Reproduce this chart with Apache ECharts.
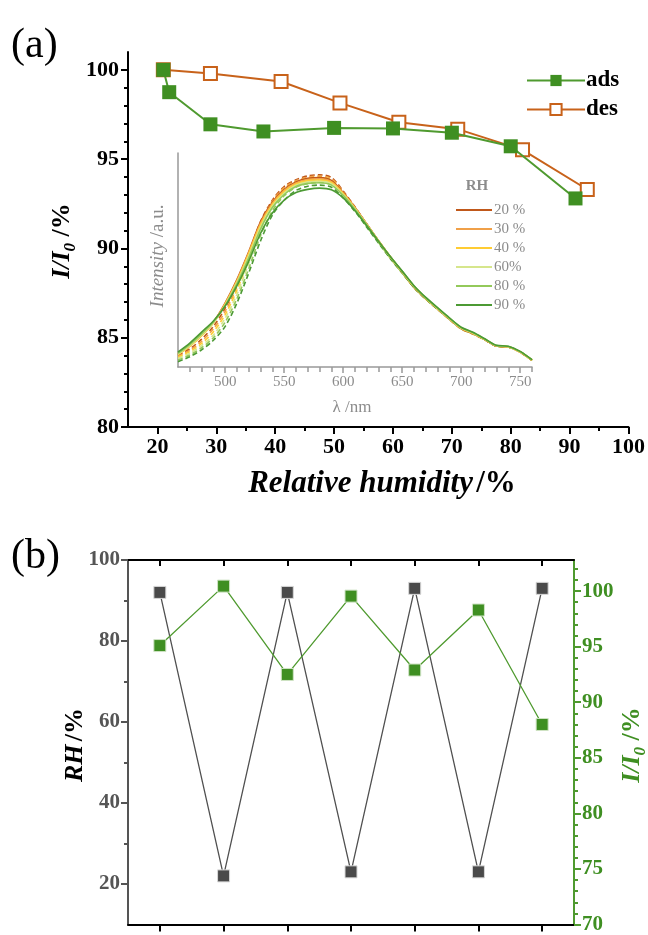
<!DOCTYPE html>
<html><head><meta charset="utf-8">
<script src="https://cdn.jsdelivr.net/npm/echarts@6/dist/echarts.min.js"></script>
<style>html,body{margin:0;padding:0;background:#fff}#c{width:648px;height:935px}</style>
</head><body><div id="c"></div>
<script>
// ---------- (a) main isotherm ----------
var adsRH = [21, 22, 29, 38, 50, 60, 70, 80, 91];
var adsI  = [100, 98.75, 96.95, 96.55, 96.75, 96.72, 96.48, 95.72, 92.8];
var desRH = [21, 29, 41, 51, 61, 71, 82, 93];
var desI  = [100, 99.8, 99.35, 98.15, 97.07, 96.68, 95.52, 93.3];
var xTicksA = [20, 30, 40, 50, 60, 70, 80, 90, 100];
var xMinorA = [25, 35, 45, 55, 65, 75, 85, 95];
var yTicksA = [80, 85, 90, 95, 100];
var yMinorA = [81,82,83,84,86,87,88,89,91,92,93,94,96,97,98,99];

// ---------- (a) inset spectra ----------
var wavelength = [460,470,480,490,500,510,520,530,540,550,560,570,580,590,600,610,620,630,640,650,660,670,680,690,700,710,720,730,740,750,760];
var rhLabels = ['20 %', '30 %', '40 %', '60%', '80 %', '90 %'];
var ads20 = [0.062,0.100,0.150,0.210,0.300,0.410,0.540,0.680,0.770,0.830,0.865,0.882,0.885,0.872,0.815,0.745,0.668,0.590,0.515,0.445,0.375,0.320,0.272,0.225,0.180,0.156,0.128,0.098,0.094,0.070,0.032];
var ads30 = [0.060,0.098,0.148,0.208,0.297,0.405,0.535,0.672,0.765,0.825,0.860,0.876,0.879,0.866,0.812,0.743,0.667,0.589,0.514,0.445,0.376,0.321,0.273,0.226,0.181,0.157,0.129,0.098,0.094,0.070,0.032];
var ads40 = [0.058,0.096,0.146,0.206,0.294,0.400,0.530,0.665,0.760,0.820,0.855,0.871,0.874,0.862,0.810,0.742,0.666,0.589,0.514,0.445,0.376,0.321,0.273,0.226,0.182,0.158,0.129,0.099,0.095,0.071,0.032];
var ads60 = [0.060,0.100,0.150,0.207,0.290,0.395,0.520,0.655,0.752,0.813,0.849,0.865,0.868,0.857,0.806,0.740,0.665,0.588,0.514,0.446,0.377,0.322,0.274,0.227,0.183,0.159,0.130,0.099,0.095,0.071,0.033];
var ads80 = [0.064,0.105,0.155,0.210,0.288,0.390,0.510,0.645,0.745,0.806,0.843,0.858,0.861,0.850,0.802,0.737,0.664,0.588,0.515,0.447,0.378,0.323,0.275,0.228,0.184,0.160,0.131,0.100,0.096,0.072,0.033];
var ads90 = [0.070,0.112,0.163,0.215,0.285,0.380,0.495,0.625,0.720,0.780,0.815,0.830,0.836,0.828,0.790,0.730,0.660,0.586,0.515,0.448,0.380,0.325,0.277,0.230,0.186,0.162,0.132,0.101,0.097,0.073,0.034];
var des20 = [0.055,0.085,0.130,0.190,0.275,0.390,0.530,0.680,0.780,0.843,0.875,0.893,0.898,0.886,0.822,0.748,0.667,0.588,0.512,0.442,0.372,0.318,0.270,0.223,0.178,0.154,0.127,0.097,0.093,0.069,0.031];
var des30 = [0.050,0.078,0.120,0.178,0.260,0.375,0.520,0.672,0.775,0.838,0.870,0.887,0.892,0.880,0.818,0.745,0.665,0.587,0.511,0.441,0.372,0.318,0.270,0.223,0.178,0.154,0.127,0.097,0.093,0.069,0.031];
var des40 = [0.045,0.072,0.110,0.165,0.245,0.360,0.505,0.660,0.768,0.832,0.865,0.881,0.886,0.874,0.814,0.742,0.663,0.586,0.510,0.441,0.372,0.318,0.270,0.223,0.179,0.155,0.127,0.097,0.093,0.069,0.031];
var des60 = [0.040,0.065,0.100,0.150,0.228,0.340,0.485,0.640,0.752,0.818,0.853,0.868,0.872,0.862,0.806,0.737,0.660,0.584,0.509,0.440,0.372,0.318,0.270,0.224,0.179,0.155,0.128,0.098,0.094,0.070,0.031];
var des80 = [0.033,0.056,0.090,0.137,0.210,0.320,0.460,0.615,0.730,0.800,0.840,0.857,0.862,0.852,0.800,0.733,0.657,0.582,0.508,0.440,0.372,0.318,0.271,0.224,0.180,0.156,0.128,0.098,0.094,0.070,0.031];
var des90 = [0.025,0.048,0.080,0.125,0.190,0.300,0.440,0.590,0.710,0.780,0.825,0.845,0.850,0.840,0.790,0.727,0.653,0.579,0.506,0.439,0.371,0.317,0.270,0.224,0.180,0.156,0.128,0.098,0.094,0.070,0.031];
var xTicksInset = [500, 550, 600, 650, 700, 750];
var xMinorInset = [470,480,490,510,520,530,540,560,570,580,590,610,620,630,640,660,670,680,690,710,720,730,740,760];

// ---------- (b) cycling ----------
var cycle = [1, 2, 3, 4, 5, 6, 7];
var cycleRH = [92, 22, 92, 23, 93, 23, 93];
var cycleI  = [95.1, 100.45, 92.5, 99.55, 92.9, 98.3, 88.0];
var yTicksBL = [20, 40, 60, 80, 100];
var yMinorBL = [30, 50, 70, 90];
var yTicksBR = [70, 75, 80, 85, 90, 95, 100];
var yMinorBR = [71,72,73,74,76,77,78,79,81,82,83,84,86,87,88,89,91,92,93,94,96,97,98,99,101,102];

var SERIF = 'Liberation Serif';
var GREEN = '#3f8f22', GREENL = '#4f9a2f', ORANGE = '#c8621a', GRAY = '#555555';
var rhColors = ['#c0581a', '#f0a048', '#ffcc33', '#d6e68c', '#93c95a', '#4c9a34'];

function pairs(xs, ys) { return xs.map(function (x, i) { return [x, ys[i]]; }); }

var chart = echarts.init(document.getElementById('c'), null, { renderer: 'canvas' });

var grids = [
  { left: 128, right: 16, top: 52, bottom: 935 - 427 },
  { left: 178, right: 648 - 532, top: 153, bottom: 935 - 367 },
  { left: 128, right: 648 - 574, top: 560, bottom: 6 }
];

function axisBase(o) {
  var b = { type: 'value', splitLine: { show: false }, axisLine: { onZero: false } };
  for (var k in o) b[k] = o[k];
  return b;
}

var xAxes = [
  axisBase({ gridIndex: 0, min: 15, max: 100, position: 'bottom',
    axisLine: { onZero: false, lineStyle: { color: '#000', width: 2 } },
    axisTick: { customValues: xTicksA, length: 7, lineStyle: { color: '#000', width: 2 } },
    axisLabel: { customValues: xTicksA, color: '#000', fontFamily: SERIF, fontWeight: 'bold', fontSize: 22, margin: 9 } }),
  axisBase({ gridIndex: 0, min: 15, max: 100, position: 'bottom', axisLine: { show: false, onZero: false },
    axisTick: { customValues: xMinorA, length: 4, lineStyle: { color: '#000', width: 2 } },
    axisLabel: { show: false } }),
  axisBase({ gridIndex: 1, min: 460, max: 760, position: 'bottom',
    axisLine: { onZero: false, lineStyle: { color: '#999', width: 1.5 } },
    axisTick: { customValues: xTicksInset, length: 6, lineStyle: { color: '#999', width: 1.5 } },
    axisLabel: { customValues: xTicksInset, color: '#8c8c8c', fontFamily: SERIF, fontSize: 15, margin: 8 } }),
  axisBase({ gridIndex: 1, min: 460, max: 760, position: 'bottom', axisLine: { show: false, onZero: false },
    axisTick: { customValues: xMinorInset, length: 5, lineStyle: { color: '#999', width: 1.5 } },
    axisLabel: { show: false } }),
  axisBase({ gridIndex: 2, min: 0.5, max: 7.5, position: 'bottom',
    axisLine: { onZero: false, lineStyle: { color: '#000', width: 2 } },
    axisTick: { customValues: cycle, length: 7, lineStyle: { color: '#000', width: 2 } },
    axisLabel: { show: false } }),
  axisBase({ gridIndex: 2, min: 0.5, max: 7.5, position: 'top',
    axisLine: { onZero: false, lineStyle: { color: '#000', width: 2 } },
    axisTick: { customValues: cycle, inside: true, length: 6, lineStyle: { color: '#000', width: 2 } },
    axisLabel: { show: false } })
];

var yAxes = [
  axisBase({ gridIndex: 0, min: 80, max: 101, position: 'left',
    axisLine: { onZero: false, lineStyle: { color: '#000', width: 2 } },
    axisTick: { customValues: yTicksA, length: 7, lineStyle: { color: '#000', width: 2 } },
    axisLabel: { customValues: yTicksA, color: '#000', fontFamily: SERIF, fontWeight: 'bold', fontSize: 22, margin: 9 } }),
  axisBase({ gridIndex: 0, min: 80, max: 101, position: 'left', axisLine: { show: false, onZero: false },
    axisTick: { customValues: yMinorA, length: 4, lineStyle: { color: '#000', width: 2 } },
    axisLabel: { show: false } }),
  axisBase({ gridIndex: 1, min: 0, max: 1, position: 'left',
    axisLine: { onZero: false, lineStyle: { color: '#999', width: 1.5 } },
    axisTick: { show: false }, axisLabel: { show: false } }),
  axisBase({ gridIndex: 2, min: 10, max: 100, position: 'left',
    axisLine: { onZero: false, lineStyle: { color: GRAY, width: 2 } },
    axisTick: { customValues: yTicksBL, length: 7, lineStyle: { color: GRAY, width: 2 } },
    axisLabel: { customValues: yTicksBL, color: GRAY, fontFamily: SERIF, fontWeight: 'bold', fontSize: 21, margin: 8 } }),
  axisBase({ gridIndex: 2, min: 10, max: 100, position: 'left', axisLine: { show: false, onZero: false },
    axisTick: { customValues: yMinorBL, length: 4, lineStyle: { color: GRAY, width: 2 } },
    axisLabel: { show: false } }),
  axisBase({ gridIndex: 2, min: 70, max: 102.8, position: 'right',
    axisLine: { onZero: false, lineStyle: { color: GREENL, width: 2 } },
    axisTick: { customValues: yTicksBR, length: 7, lineStyle: { color: GREENL, width: 2 } },
    axisLabel: { customValues: yTicksBR, color: GREEN, fontFamily: SERIF, fontWeight: 'bold', fontSize: 21, margin: 8 } }),
  axisBase({ gridIndex: 2, min: 70, max: 102.8, position: 'right', axisLine: { show: false, onZero: false },
    axisTick: { customValues: yMinorBR, length: 4, lineStyle: { color: GREENL, width: 2 } },
    axisLabel: { show: false } })
];

var series = [];
series.push({ name: 'des', type: 'line', xAxisIndex: 0, yAxisIndex: 0, data: pairs(desRH, desI),
  symbol: 'rect', symbolSize: 13, lineStyle: { color: ORANGE, width: 2 },
  itemStyle: { color: '#fff', borderColor: ORANGE, borderWidth: 2 }, z: 3 });
series.push({ name: 'ads', type: 'line', xAxisIndex: 0, yAxisIndex: 0, data: pairs(adsRH, adsI),
  symbol: 'rect', symbolSize: 14, lineStyle: { color: GREENL, width: 2 },
  itemStyle: { color: GREEN, borderColor: GREEN, borderWidth: 0 }, z: 4 });

var adsCurves = [ads20, ads30, ads40, ads60, ads80, ads90];
var desCurves = [des20, des30, des40, des60, des80, des90];
desCurves.forEach(function (arr, i) {
  series.push({ name: rhLabels[i] + ' des', type: 'line', xAxisIndex: 2, yAxisIndex: 2,
    data: pairs(wavelength, arr), symbol: 'none', smooth: 0.3,
    lineStyle: { color: rhColors[i], width: 1.6, type: [5, 3] }, z: 2 });
});
adsCurves.forEach(function (arr, i) {
  series.push({ name: rhLabels[i], type: 'line', xAxisIndex: 2, yAxisIndex: 2,
    data: pairs(wavelength, arr), symbol: 'none', smooth: 0.3,
    lineStyle: { color: rhColors[i], width: 1.6 }, itemStyle: { color: rhColors[i] }, z: 2 });
});

series.push({ name: 'RH', type: 'line', xAxisIndex: 4, yAxisIndex: 3, data: pairs(cycle, cycleRH),
  symbol: 'rect', symbolSize: 12, lineStyle: { color: '#505050', width: 1.3 },
  itemStyle: { color: '#4a4a4a', borderColor: '#d8d8d8', borderWidth: 1 }, z: 3 });
series.push({ name: 'I/I0', type: 'line', xAxisIndex: 4, yAxisIndex: 5, data: pairs(cycle, cycleI),
  symbol: 'rect', symbolSize: 12, lineStyle: { color: GREENL, width: 1.3 },
  itemStyle: { color: GREEN, borderColor: '#cfe3c4', borderWidth: 1 }, z: 4 });

var option = {
  animation: false,
  backgroundColor: '#fff',
  grid: grids,
  xAxis: xAxes,
  yAxis: yAxes,
  legend: [
    { data: ['ads', 'des'], orient: 'vertical', left: 521, top: 64, itemWidth: 58, itemHeight: 14, itemGap: 6,
      selectedMode: false, textStyle: { fontFamily: SERIF, fontWeight: 'bold', fontSize: 23, color: '#000', padding: [0, 0, 0, -4] } },
    { data: rhLabels, orient: 'vertical', left: 451, top: 197, icon: 'rect', itemWidth: 36, itemHeight: 2, itemGap: 3,
      selectedMode: false, textStyle: { fontFamily: SERIF, fontSize: 15, color: '#8c8c8c', lineHeight: 16, padding: [0, 0, 0, -3] } }
  ],
  series: series,
  graphic: [
    { type: 'text', left: 11, top: 25, style: { text: '(a)', fontFamily: SERIF, fontSize: 42, fill: '#000' } },
    { type: 'text', left: 11, top: 536, style: { text: '(b)', fontFamily: SERIF, fontSize: 42, fill: '#000' } },
    { type: 'text', x: 477, y: 186, style: { text: 'RH', fontFamily: SERIF, fontWeight: 'bold', fontSize: 15, fill: '#8c8c8c', align: 'center', verticalAlign: 'middle' } },
    { type: 'text', x: 352, y: 408, style: { text: 'λ /nm', fontFamily: SERIF, fontSize: 17, fill: '#8c8c8c', align: 'center', verticalAlign: 'middle' } },
    { type: 'text', x: 158, y: 256, rotation: Math.PI / 2,
      style: { text: '{i|Intensity} /a.u.', fontFamily: SERIF, fontSize: 19, fill: '#8c8c8c', align: 'center', verticalAlign: 'middle',
        rich: { i: { fontFamily: SERIF, fontStyle: 'italic', fontSize: 19, fill: '#8c8c8c' } } } },
    { type: 'text', x: 382, y: 484,
      style: { text: '{i|Relative humidity} {n|/%}', align: 'center', verticalAlign: 'middle',
        rich: { i: { fontFamily: SERIF, fontStyle: 'italic', fontWeight: 'bold', fontSize: 31, fill: '#000' },
                n: { fontFamily: SERIF, fontWeight: 'bold', fontSize: 31, fill: '#000' } } } },
    { type: 'text', x: 62, y: 241, rotation: Math.PI / 2,
      style: { text: '{i|I/I}{s|0}{n| /%}', align: 'center', verticalAlign: 'middle',
        rich: { i: { fontFamily: SERIF, fontStyle: 'italic', fontWeight: 'bold', fontSize: 26, fill: '#000', lineHeight: 34, verticalAlign: 'middle' },
                s: { fontFamily: SERIF, fontStyle: 'italic', fontWeight: 'bold', fontSize: 17, fill: '#000', lineHeight: 34, verticalAlign: 'bottom' },
                n: { fontFamily: SERIF, fontWeight: 'bold', fontSize: 26, fill: '#000', lineHeight: 34, verticalAlign: 'middle' } } } },
    { type: 'text', x: 75, y: 745, rotation: Math.PI / 2,
      style: { text: '{i|RH} {n|/%}', align: 'center', verticalAlign: 'middle',
        rich: { i: { fontFamily: SERIF, fontStyle: 'italic', fontWeight: 'bold', fontSize: 26, fill: '#000' },
                n: { fontFamily: SERIF, fontWeight: 'bold', fontSize: 26, fill: '#000' } } } },
    { type: 'text', x: 632, y: 745, rotation: Math.PI / 2,
      style: { text: '{i|I/I}{s|0}{n| /%}', align: 'center', verticalAlign: 'middle',
        rich: { i: { fontFamily: SERIF, fontStyle: 'italic', fontWeight: 'bold', fontSize: 26, fill: GREEN, lineHeight: 34, verticalAlign: 'middle' },
                s: { fontFamily: SERIF, fontStyle: 'italic', fontWeight: 'bold', fontSize: 17, fill: GREEN, lineHeight: 34, verticalAlign: 'bottom' },
                n: { fontFamily: SERIF, fontWeight: 'bold', fontSize: 26, fill: GREEN, lineHeight: 34, verticalAlign: 'middle' } } } }
  ]
};
chart.setOption(option);
</script>
</body></html>
